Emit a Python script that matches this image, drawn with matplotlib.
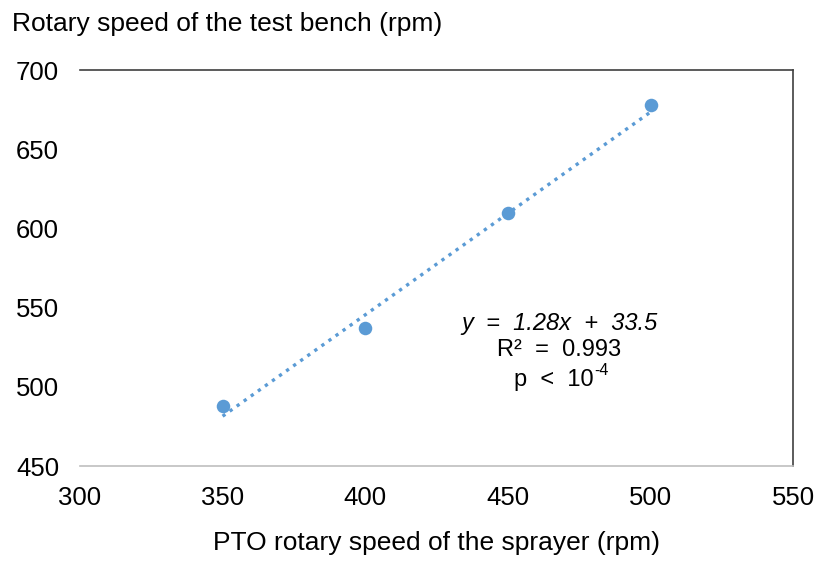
import matplotlib.pyplot as plt
import numpy as np

# Data
pto_speed = [350, 400, 450, 500]
bench_speed = [488, 537, 610, 678]
slope, intercept = 1.28, 33.5
x_ticks = [300, 350, 400, 450, 500, 550]
y_ticks = [450, 500, 550, 600, 650, 700]

plt.rcParams['font.family'] = ['Liberation Sans', 'DejaVu Sans']

fig = plt.figure(figsize=(8.16, 5.65), dpi=100)
ax = fig.add_axes([0.098, 0.175, 0.874, 0.701])

blue = '#5B9BD5'

# Trend line over the range of the data
fit_x = np.array([min(pto_speed), max(pto_speed)])
ax.plot(fit_x, slope * fit_x + intercept, linestyle=(0, (1, 1.6)), color=blue,
        linewidth=2.4, zorder=2)
ax.scatter(pto_speed, bench_speed, s=95, color=blue, zorder=3, linewidths=0)

ax.set_xlim(300, 550)
ax.set_ylim(450, 700)
ax.set_xticks(x_ticks)
ax.set_yticks(y_ticks)
ax.tick_params(length=0, labelsize=18.5)
ax.tick_params(axis='x', pad=14.5)
ax.tick_params(axis='y', pad=15)

# Spines: no left, gray bottom, dark top/right
ax.spines['left'].set_visible(False)
ax.spines['bottom'].set_color('#bfbfbf')
ax.spines['top'].set_color('#404040')
ax.spines['right'].set_color('#404040')
for s in ax.spines.values():
    s.set_linewidth(1.2)

ax.set_xlabel('PTO rotary speed of the sprayer (rpm)', fontsize=19, labelpad=15)
fig.text(0.015, 0.958, 'Rotary speed of the test bench (rpm)', fontsize=19,
         ha='left', va='center')

# Regression annotation
ax.text(468, 540.3, 'y  =  1.28x  +  33.5', fontsize=17, ha='center', va='center',
        style='italic')
ax.text(468, 523.5, 'R²  =  0.993', fontsize=17, ha='center', va='center')
p_txt = ax.text(466, 504.5, 'p  <  10', fontsize=17, ha='center', va='center')
ax.annotate('-4', xy=(1, 1), xycoords=p_txt, xytext=(0.5, 4),
            textcoords='offset points', fontsize=11.5, ha='left', va='top')

plt.savefig('out.png', dpi=100)
